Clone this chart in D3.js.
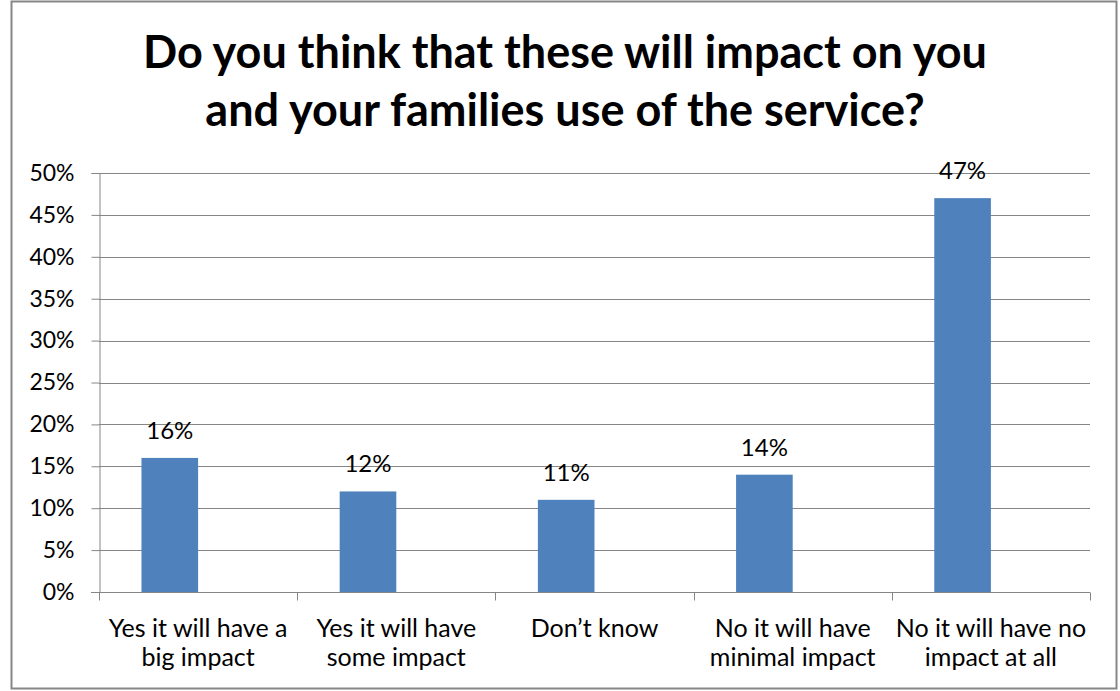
<!DOCTYPE html>
<html lang="en">
<head>
<meta charset="utf-8">
<title>Impact on service use</title>
<script src="https://d3js.org/d3.v7.min.js"></script>
<style>
  body { margin: 0; background: #fff; }
  svg text { font-family: Lato, "Open Sans", sans-serif; fill: #000; }
  .axis path, .axis line { stroke: #868686; }
</style>
</head>
<body>
<script>
// data
const categories = [
  "Yes it will have a big impact",
  "Yes it will have some impact",
  "Don\u2019t know",
  "No it will have minimal impact",
  "No it will have no impact at all"
];
const labelLines = [
  ["Yes it will have a", "big impact"],
  ["Yes it will have", "some impact"],
  ["Don\u2019t know"],
  ["No it will have", "minimal impact"],
  ["No it will have no", "impact at all"]
];
const values = [0.16, 0.12, 0.11, 0.14, 0.47];
const yTicks = [0, 0.05, 0.10, 0.15, 0.20, 0.25, 0.30, 0.35, 0.40, 0.45, 0.50];
const titleLines = ["Do you think that these will impact on you", "and your families use of the service?"];

const W = 1120, H = 691;
const plot = {left: 99, right: 1090, top: 173, bottom: 592};

const svg = d3.select("body").append("svg")
  .attr("width", W).attr("height", H);

// chart frame
svg.append("rect")
  .attr("x", 11.5).attr("y", 1.5)
  .attr("width", 1105).attr("height", 687)
  .attr("fill", "#fff")
  .attr("stroke", "#868686")
  .attr("stroke-width", 2);

// title
svg.append("text")
  .attr("text-anchor", "middle")
  .attr("font-weight", "bold")
  .attr("font-size", 45)
  .selectAll("tspan")
  .data(titleLines)
  .enter().append("tspan")
    .attr("x", 565)
    .attr("y", (d, i) => 68 + i * 58)
    .text(d => d);

const x = d3.scaleBand().domain(categories).range([plot.left, plot.right]);
// excel-style cluster: the drawn series takes the left slot of two
const xSeries = d3.scaleBand().domain(["s1", "s2"]).range([0, x.bandwidth()]).paddingOuter(0.75);
const y = d3.scaleLinear().domain([0, 0.5]).range([plot.bottom, plot.top]);

// gridlines
svg.append("g")
  .selectAll("line")
  .data(yTicks.slice(1))
  .enter().append("line")
    .attr("x1", plot.left).attr("x2", plot.right)
    .attr("y1", d => Math.round(y(d)) + 0.5)
    .attr("y2", d => Math.round(y(d)) + 0.5)
    .attr("stroke", "#868686")
    .attr("stroke-width", 1);

// bars
svg.append("g")
  .selectAll("rect")
  .data(values)
  .enter().append("rect")
    .attr("x", (d, i) => x(categories[i]) + xSeries("s1"))
    .attr("y", d => y(d))
    .attr("width", xSeries.bandwidth())
    .attr("height", d => plot.bottom - y(d))
    .attr("fill", "#4F81BD");

// data labels
svg.append("g")
  .selectAll("text")
  .data(values)
  .enter().append("text")
    .attr("x", (d, i) => x(categories[i]) + xSeries("s1") + xSeries.bandwidth() / 2)
    .attr("y", d => y(d) - 19)
    .attr("text-anchor", "middle")
    .attr("font-size", 24)
    .text(d => d3.format(".0%")(d));

// y axis
const yAxis = svg.append("g")
  .attr("class", "axis")
  .attr("transform", "translate(" + (plot.left + 0.5) + ",0)")
  .call(d3.axisLeft(y).tickValues(yTicks).tickFormat(d3.format(".0%")).tickSize(8).tickPadding(17));
yAxis.selectAll("text")
  .attr("font-size", 23)
  .attr("font-family", "Lato, sans-serif")
  .attr("fill", "#000");
yAxis.select(".domain").attr("stroke", "#868686");

// x axis
const xAxis = svg.append("g")
  .attr("class", "axis")
  .attr("transform", "translate(0," + (plot.bottom + 0.5) + ")");
xAxis.append("line")
  .attr("x1", plot.left - 8).attr("x2", plot.right)
  .attr("stroke", "#868686");
xAxis.selectAll(".tick")
  .data(categories.concat([null]))
  .enter().append("line")
    .attr("x1", (d, i) => Math.round(plot.left + i * x.step()) + 0.5)
    .attr("x2", (d, i) => Math.round(plot.left + i * x.step()) + 0.5)
    .attr("y1", 0).attr("y2", 8)
    .attr("stroke", "#868686");

xAxis.selectAll("text.cat")
  .data(labelLines)
  .enter().append("text")
    .attr("class", "cat")
    .attr("text-anchor", "middle")
    .attr("font-size", 25)
    .each(function(lines, i) {
      d3.select(this).selectAll("tspan")
        .data(lines)
        .enter().append("tspan")
          .attr("x", x(categories[i]) + x.bandwidth() / 2)
          .attr("y", (d, j) => 44 + j * 29.5)
          .text(d => d);
    });
</script>
</body>
</html>
